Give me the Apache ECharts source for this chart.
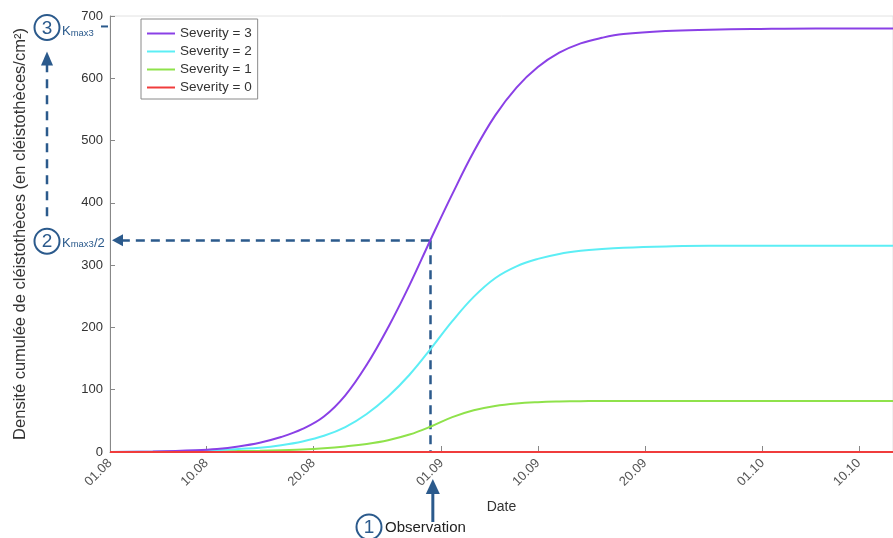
<!DOCTYPE html>
<html>
<head>
<meta charset="utf-8">
<script src="https://cdn.jsdelivr.net/npm/echarts@6/dist/echarts.min.js"></script>
<style>
html,body{margin:0;padding:0;background:#fff;}
#main{width:893px;height:538px;}
</style>
</head>
<body>
<div id="main"></div>
<script>
// Days counted from 01.08
const days = [0, 4, 8, 10, 12, 14, 16, 18, 20, 22, 24, 26, 28, 30, 32, 34, 36, 38, 40, 42, 44, 46, 48, 52, 56, 60, 66, 73.2];
const sev3 = [0, 1, 3, 5, 9, 15, 24, 37, 57, 91, 140, 200, 268, 342, 414, 482, 540, 585, 618, 641, 656, 665, 671, 676, 678, 679, 680, 680];
const sev2 = [0, 0.5, 2, 3, 5, 7, 11, 17, 26, 40, 61, 89, 124, 166, 210, 249, 279, 298, 310, 318, 323, 326, 328, 330, 331, 331, 331, 331];
const sev1 = [0, 0, 0.5, 1, 1.5, 2, 3, 4, 6, 9, 13, 19, 28, 41, 56, 67, 74, 78, 80, 81, 81.5, 82, 82, 82, 82, 82, 82, 82];
const sev0 = [0, 0, 0, 0, 0, 0, 0, 0, 0, 0, 0, 0, 0, 0, 0, 0, 0, 0, 0, 0, 0, 0, 0, 0, 0, 0, 0, 0];
const tickDays = [0, 9, 19, 31, 40, 50, 61, 70];
const tickLabels = ['01.08', '10.08', '20.08', '01.09', '10.09', '20.09', '01.10', '10.10'];
const seriesNames = ['Severity = 3', 'Severity = 2', 'Severity = 1', 'Severity = 0'];
const obsDay = 29.9;      // observation date
const halfK = 340;        // Kmax3 / 2
const arrowEndDay = 0.7;  // where the K/2 arrow head sits

const colors = ['#8a40e6', '#5ceef5', '#8fe24b', '#f03c3c'];
const annot = '#2b5a8c';
const FONT = 'Arial, "Liberation Sans", Helvetica, sans-serif';

function pairs(v){ return days.map((d,i)=>[d, v[i]]); }

const chart = echarts.init(document.getElementById('main'), null, {renderer:'canvas'});
const allSeries = [sev3, sev2, sev1, sev0];

const series = allSeries.map((v, i) => ({
  name: seriesNames[i],
  type: 'line',
  data: pairs(v),
  smooth: 0.4,
  symbol: 'none',
  clip: false,
  z: 10 - i,
  lineStyle: {color: colors[i], width: 2},
  itemStyle: {color: colors[i]}
}));
series[3].z = 11;

series[0].markLine = {
  silent: true,
  animation: false,
  label: {show: false},
  symbol: ['none', 'triangle'],
  symbolSize: [12, 11],
  lineStyle: {color: annot, type: [9, 6], width: 2.5},
  itemStyle: {color: annot},
  data: [
    [{coord: [obsDay, halfK], symbol: 'none'}, {coord: [arrowEndDay, halfK], symbol: 'triangle'}],
    [{coord: [obsDay, halfK], symbol: 'none'}, {coord: [obsDay, 0], symbol: 'none'}]
  ]
};

const option = {
  animation: false,
  backgroundColor: '#fff',
  textStyle: {fontFamily: FONT},
  grid: {left: 110, right: -1, top: 16, bottom: 86, show: true, borderColor: '#e2e2e2', borderWidth: 1, backgroundColor: 'transparent'},
  legend: {
    orient: 'vertical',
    left: 141, top: 19,
    data: seriesNames,
    icon: 'rect',
    backgroundColor: '#fff',
    borderColor: '#8a8a8a', borderWidth: 1,
    padding: [7, 6, 4, 6],
    itemGap: 3,
    itemWidth: 28, itemHeight: 2,
    textStyle: {fontSize: 13.5, lineHeight: 15, color: '#333', fontFamily: FONT}
  },
  xAxis: {
    type: 'value',
    min: 0, max: 73.2,
    name: 'Date',
    nameLocation: 'middle',
    nameGap: 48,
    nameTextStyle: {fontSize: 14, color: '#333', fontFamily: FONT},
    axisLine: {show: true, lineStyle: {color: '#888', width: 1}},
    axisTick: {show: true, inside: true, length: 6, customValues: tickDays, lineStyle: {color: '#888'}},
    axisLabel: {rotate: 45, margin: 9, fontSize: 13, color: '#555', fontFamily: FONT,
      customValues: tickDays,
      formatter: v => { const i = tickDays.indexOf(v); return i >= 0 ? tickLabels[i] : ''; }},
    splitLine: {show: false}
  },
  yAxis: {
    type: 'value',
    min: 0, max: 700, interval: 100,
    name: 'Densité cumulée de cléistothèces (en cléistothèces/cm²)',
    nameLocation: 'middle',
    nameGap: 81,
    nameTextStyle: {fontSize: 16.5, color: '#333', fontFamily: FONT},
    axisLine: {show: true, lineStyle: {color: '#888', width: 1}},
    axisTick: {show: true, inside: true, length: 5, lineStyle: {color: '#888'}},
    axisLabel: {fontSize: 13, color: '#333', margin: 7, fontFamily: FONT},
    splitLine: {show: false}
  },
  series: series
};
chart.setOption(option);

// Annotation graphics placed relative to axis coordinates
const pObs = chart.convertToPixel({gridIndex: 0}, [obsDay, 0]);
const pHalf = chart.convertToPixel({gridIndex: 0}, [0, halfK]);
const pK = chart.convertToPixel({gridIndex: 0}, [0, 2 * halfK]);
const ax = 47; // left annotation column
const circ = (cx, cy, t) => [
  {type: 'circle', shape: {cx: cx, cy: cy, r: 12.5}, style: {fill: '#fff', stroke: annot, lineWidth: 2}, z: 100},
  {type: 'text', x: cx, y: cy + 1, style: {text: t, fill: annot, font: '19px ' + FONT, align: 'center', verticalAlign: 'middle'}, z: 101}
];
const kText = (x, y, suffix) => ({
  type: 'text', x: x, y: y, z: 101,
  style: {
    text: '{k|K}{s|max3}{k|' + suffix + '}',
    align: 'left', verticalAlign: 'middle',
    rich: {
      k: {fontSize: 13, fill: annot, fontFamily: FONT, verticalAlign: 'bottom', lineHeight: 15},
      s: {fontSize: 9.5, fill: annot, fontFamily: FONT, verticalAlign: 'bottom', lineHeight: 12}
    }
  }
});
const graphics = [].concat(
  circ(ax, pK[1] - 1, '3'),
  circ(ax, pHalf[1] + 1, '2'),
  circ(369, 527, '1'),
  [
    kText(62, pK[1] + 2, ''),
    kText(62, pHalf[1] + 2, '/2'),
    {type: 'line', shape: {x1: 101, y1: pK[1] - 2, x2: 108, y2: pK[1] - 2}, style: {stroke: annot, lineWidth: 2}, z: 101},
    // vertical dashed arrow from 2 to 3
    {type: 'line', shape: {x1: ax, y1: pHalf[1] - 24, x2: ax, y2: pK[1] + 36}, style: {stroke: annot, lineWidth: 2.5, lineDash: [9, 7]}, z: 100},
    {type: 'polygon', shape: {points: [[ax, pK[1] + 23], [ax - 6, pK[1] + 37], [ax + 6, pK[1] + 37]]}, style: {fill: annot}, z: 100},
    // observation arrow
    {type: 'line', shape: {x1: pObs[0] + 3, y1: 522, x2: pObs[0] + 3, y2: 490}, style: {stroke: annot, lineWidth: 3}, z: 100},
    {type: 'polygon', shape: {points: [[pObs[0] + 3, 479], [pObs[0] - 4, 494], [pObs[0] + 10, 494]]}, style: {fill: annot}, z: 100},
    {type: 'text', x: 385, y: 528, style: {text: 'Observation', fill: '#222', font: '15px ' + FONT, align: 'left', verticalAlign: 'middle'}, z: 101}
  ]
);
chart.setOption({graphic: graphics});
</script>
</body>
</html>
